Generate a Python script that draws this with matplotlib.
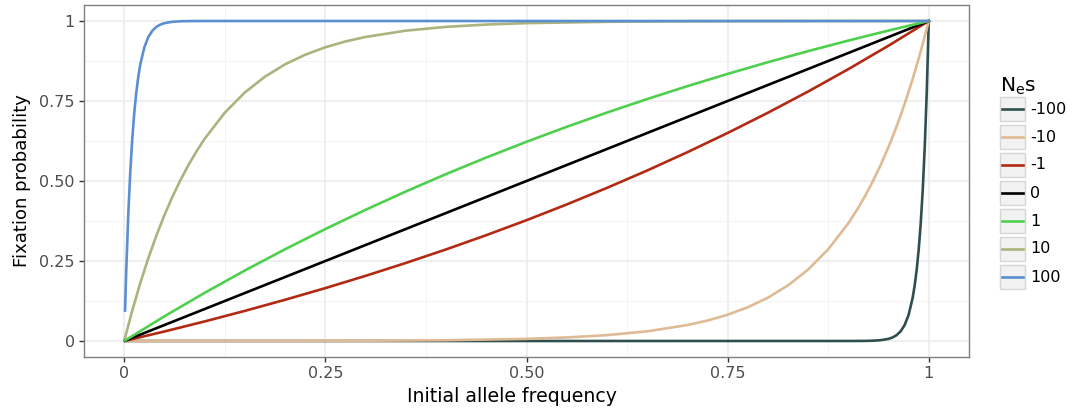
import numpy as np
import matplotlib.pyplot as plt
from matplotlib.patches import Rectangle
from matplotlib.lines import Line2D

# fixation probability vs initial allele frequency, one curve per Ne*s
p_m100 = [0.001, 0.9, 0.92, 0.93, 0.94, 0.95, 0.955, 0.96, 0.965, 0.97, 0.975,
          0.98, 0.9825, 0.985, 0.9875, 0.99, 0.9925, 0.995, 0.9975, 1.0]
u_m100 = [0.0, 0.00005, 0.0003, 0.0009, 0.0025, 0.0067, 0.0111, 0.0183, 0.0302, 0.0498, 0.0821,
          0.1353, 0.1738, 0.2231, 0.2865, 0.3679, 0.4724, 0.6065, 0.7788, 1.0]

p_m10 = [0.001, 0.2, 0.3, 0.4, 0.5, 0.55, 0.6, 0.65, 0.7, 0.725, 0.75, 0.775, 0.8,
         0.825, 0.85, 0.875, 0.9, 0.91, 0.92, 0.93, 0.94, 0.95, 0.96, 0.97, 0.98, 0.99, 1.0]
u_m10 = [0.0, 0.0003, 0.0009, 0.0024, 0.0067, 0.0111, 0.0183, 0.0302, 0.0498, 0.0639, 0.0821, 0.1054, 0.1353,
         0.1738, 0.2231, 0.2865, 0.3679, 0.4066, 0.4493, 0.4966, 0.5488, 0.6065, 0.6703, 0.7408, 0.8187, 0.9048, 1.0]

p_pm1 = [0.001, 0.05, 0.1, 0.15, 0.2, 0.25, 0.3, 0.35, 0.4, 0.45, 0.5,
         0.55, 0.6, 0.65, 0.7, 0.75, 0.8, 0.85, 0.9, 0.95, 1.0]
u_m1 = [0.0006, 0.0298, 0.0612, 0.0942, 0.1289, 0.1653, 0.2036, 0.2439, 0.2862, 0.3307, 0.3775,
        0.4267, 0.4785, 0.5328, 0.5900, 0.6501, 0.7132, 0.7796, 0.8495, 0.9229, 1.0]
u_1 = [0.0016, 0.0772, 0.1506, 0.2204, 0.2868, 0.3499, 0.4100, 0.4672, 0.5216, 0.5733, 0.6225,
       0.6693, 0.7138, 0.7561, 0.7964, 0.8347, 0.8712, 0.9058, 0.9388, 0.9702, 1.0]

p_0 = [0.001, 1.0]
u_0 = [0.001, 1.0]

p_10 = [0.001, 0.01, 0.02, 0.03, 0.04, 0.05, 0.06, 0.07, 0.08, 0.09, 0.1, 0.125, 0.15, 0.175,
        0.2, 0.225, 0.25, 0.275, 0.3, 0.35, 0.4, 0.45, 0.5, 0.6, 0.7, 0.8, 0.9, 1.0]
u_10 = [0.0100, 0.0952, 0.1813, 0.2592, 0.3297, 0.3935, 0.4512, 0.5034, 0.5507, 0.5934, 0.6321, 0.7135, 0.7769, 0.8262,
        0.8647, 0.8946, 0.9179, 0.9361, 0.9502, 0.9698, 0.9817, 0.9889, 0.9933, 0.9975, 0.9991, 0.9997, 0.9999, 1.0]

p_100 = [0.001, 0.0025, 0.005, 0.0075, 0.01, 0.0125, 0.015, 0.0175, 0.02, 0.025,
         0.03, 0.035, 0.04, 0.045, 0.05, 0.06, 0.07, 0.08, 0.1, 1.0]
u_100 = [0.0952, 0.2212, 0.3935, 0.5276, 0.6321, 0.7135, 0.7769, 0.8262, 0.8647, 0.9179,
         0.9502, 0.9698, 0.9817, 0.9889, 0.9933, 0.9975, 0.9991, 0.9997, 1.0, 1.0]

labels = ["-100", "-10", "-1", "0", "1", "10", "100"]
colors = ["#2F4F4F", "#DEBB94", "#B22A14", "#000000", "#4ED04E", "#A9B47E", "#5B8FD2"]
curves = [(p_m100, u_m100), (p_m10, u_m10), (p_pm1, u_m1), (p_0, u_0),
          (p_pm1, u_1), (p_10, u_10), (p_100, u_100)]

fig = plt.figure(figsize=(10.75, 4.12), dpi=100)
ax = fig.add_axes([84 / 1075, 55 / 412, 885 / 1075, 352 / 412])

for (x, y), c in zip(curves, colors):
    ax.plot(x, y, color=c, lw=1.9, solid_joinstyle="round", zorder=3)

ax.set_xlim(-0.05, 1.05)
ax.set_ylim(-0.05, 1.05)
ticks = [0, 0.25, 0.5, 0.75, 1]
ticklabels = ["0", "0.25", "0.50", "0.75", "1"]
ax.set_xticks(ticks)
ax.set_xticklabels(ticklabels)
ax.set_yticks(ticks)
ax.set_yticklabels(ticklabels)
ax.set_xticks([0.125, 0.375, 0.625, 0.875], minor=True)
ax.set_yticks([0.125, 0.375, 0.625, 0.875], minor=True)
ax.grid(which="major", color="#EBEBEB", lw=1.1, zorder=0)
ax.grid(which="minor", color="#F3F3F3", lw=0.6, zorder=0)
ax.set_axisbelow(True)
ax.tick_params(which="major", length=3.5, width=1.0, color="#333333",
               labelsize=11.5, labelcolor="#4D4D4D", pad=3)
ax.tick_params(which="minor", length=0)
for s in ax.spines.values():
    s.set_color("#7F7F7F")
    s.set_linewidth(1.0)

ax.set_xlabel("Initial allele frequency", fontsize=13.6)
ax.xaxis.set_label_coords(0.4836, -0.085)
ax.set_ylabel("Fixation probability", fontsize=13, labelpad=6)

# legend drawn by hand so each key gets a grey box
fig.text(1000 / 1075, 1 - 92 / 412, r"N$_\mathregular{e}$s", fontsize=14.5, va="baseline")
kw, kh, step = 25 / 1075, 24 / 412, 28 / 412
for i, (lab, c) in enumerate(zip(labels, colors)):
    y0 = 1 - (97 / 412) - kh - i * step
    fig.patches.append(Rectangle((1000 / 1075, y0), kw, kh, transform=fig.transFigure,
                                 facecolor="#F2F2F2", edgecolor="#D6D6D6", lw=1.0))
    fig.lines.append(Line2D([1002 / 1075, 1023 / 1075], [y0 + kh / 2] * 2,
                            transform=fig.transFigure, color=c, lw=1.9))
    fig.text(1030 / 1075, y0 + kh / 2, lab, fontsize=11.5, va="center")

fig.savefig("out.png", dpi=100)
